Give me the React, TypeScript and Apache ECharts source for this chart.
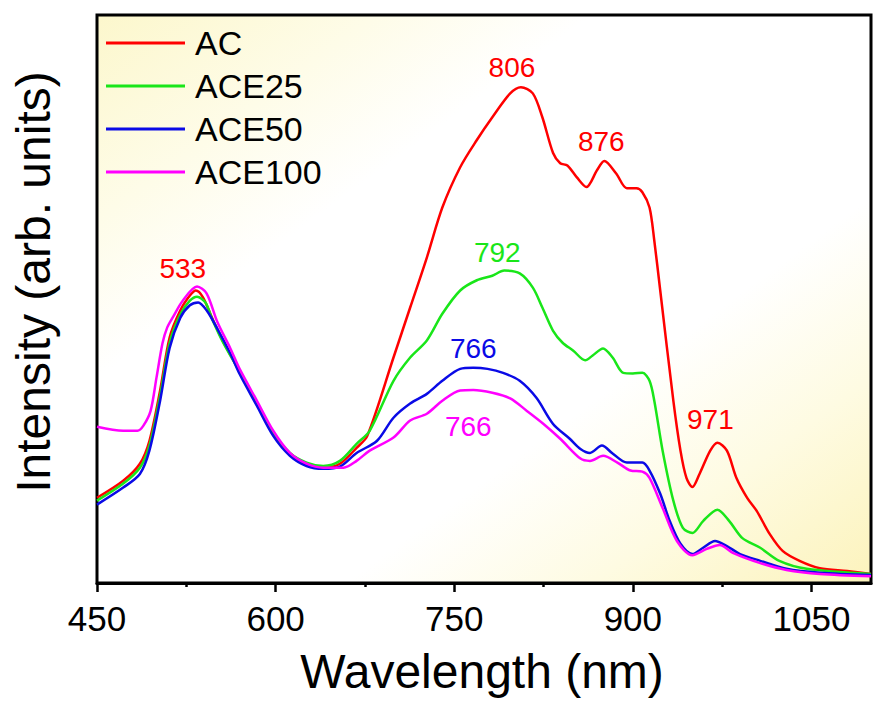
import React, { useEffect, useRef } from "react";
import * as echarts from "echarts";

// Emission spectra, wavelength (nm) vs. intensity (arb. units, 0–100 scale)
const AC_NM = [450, 472, 486, 494, 503, 511, 520, 528, 533, 539, 547, 556, 570, 584, 598, 612, 626, 640, 654, 668, 677, 699, 713, 727, 740, 755, 769, 782, 797, 806, 816, 824, 833, 839, 845, 853, 861, 870, 876, 886, 895, 903, 908, 914, 918, 923, 934, 940, 945, 950, 956, 965, 971, 979, 987, 996, 1004, 1015, 1026, 1040, 1057, 1080, 1100];
const AC_I = [15.0, 18.0, 21.0, 25.0, 33.9, 43.2, 48.0, 50.6, 51.5, 50.3, 46.5, 42.5, 37.2, 31.8, 26.4, 22.8, 21.0, 20.3, 21.0, 23.8, 25.9, 39.7, 48.5, 57.3, 66.1, 73.2, 78.0, 82.0, 86.2, 87.3, 86.2, 82.0, 75.7, 73.9, 73.5, 71.4, 69.7, 72.7, 74.3, 72.1, 69.5, 69.5, 68.8, 66.1, 60.3, 51.5, 32.1, 23.3, 18.5, 16.9, 19.2, 23.3, 24.7, 23.3, 18.5, 15.0, 12.7, 8.6, 5.6, 3.9, 2.6, 2.1, 1.6];

const ACE25_NM = [450, 472, 486, 494, 503, 511, 520, 528, 534, 541, 547, 556, 570, 584, 598, 612, 626, 640, 654, 668, 679, 699, 713, 727, 740, 755, 769, 782, 792, 805, 816, 824, 833, 841, 850, 860, 866, 875, 883, 892, 900, 908, 914, 918, 925, 934, 942, 950, 959, 971, 981, 992, 1007, 1023, 1046, 1100];
const ACE25_I = [14.5, 17.5, 20.3, 24.2, 33.0, 42.3, 47.3, 49.7, 50.4, 49.4, 46.3, 42.3, 37.1, 31.7, 26.5, 22.9, 21.2, 20.6, 21.5, 24.5, 26.8, 35.6, 39.7, 42.7, 47.4, 51.5, 53.3, 54.1, 55.0, 54.5, 52.0, 48.5, 44.4, 42.3, 40.9, 39.2, 40.0, 41.3, 39.7, 37.0, 36.9, 37.0, 35.6, 32.1, 23.3, 14.5, 9.7, 8.8, 10.9, 12.9, 10.9, 7.9, 6.2, 3.9, 2.5, 1.6];

const ACE50_NM = [450, 472, 486, 494, 503, 511, 520, 528, 535, 542, 551, 562, 570, 584, 598, 612, 626, 640, 654, 668, 685, 699, 713, 727, 740, 755, 766, 778, 791, 805, 819, 833, 847, 856, 864, 874, 883, 895, 908, 914, 923, 931, 940, 950, 959, 969, 979, 990, 1007, 1029, 1057, 1100];
const ACE50_I = [13.8, 16.8, 19.2, 23.3, 32.1, 41.4, 46.7, 48.9, 49.4, 48.0, 44.8, 40.4, 36.7, 31.3, 25.9, 22.4, 20.6, 20.1, 20.5, 22.9, 25.0, 29.1, 31.6, 33.3, 35.6, 37.7, 37.9, 37.7, 37.0, 35.6, 32.6, 28.0, 25.4, 23.6, 22.9, 24.2, 22.8, 21.2, 21.2, 19.8, 15.7, 10.9, 6.9, 5.1, 6.2, 7.4, 6.5, 5.1, 3.9, 2.5, 1.8, 1.4];

const ACE100_NM = [450, 472, 484, 489, 495, 500, 505, 509, 514, 522, 534, 542, 551, 562, 570, 584, 598, 612, 626, 640, 657, 668, 679, 699, 713, 727, 740, 755, 766, 782, 797, 811, 825, 839, 856, 864, 875, 887, 898, 908, 914, 925, 937, 950, 962, 973, 984, 1007, 1029, 1057, 1100];
const ACE100_I = [27.5, 26.8, 26.8, 27.7, 30.3, 36.2, 42.2, 45.0, 46.9, 49.7, 52.2, 51.0, 46.0, 41.3, 37.6, 32.2, 26.8, 22.9, 21.0, 20.3, 20.3, 21.5, 23.3, 25.6, 28.6, 29.8, 32.1, 33.9, 34.0, 33.5, 32.5, 30.3, 28.0, 25.4, 21.9, 21.5, 22.4, 21.2, 19.8, 19.6, 18.5, 13.2, 7.4, 4.9, 6.0, 6.7, 5.3, 3.5, 2.3, 1.6, 1.2];

// Annotated peak positions (nm)
const AC_PEAKS = [533, 806, 876, 971];
const ACE25_PEAKS = [792];
const ACE50_PEAKS = [766];
const ACE100_PEAKS = [766];

const X_MAJOR = [450, 600, 750, 900, 1050];
const X_MINOR = [525, 675, 825, 975];

const FONT = '"Liberation Sans", Arial, Helvetica, sans-serif';

// Label placement relative to each peak, in pixels
const PEAK_OFFSETS: Record<string, [number, number][]> = {
  AC: [[-13, -22], [-9, -20], [-3, -19], [-7, -23]],
  ACE25: [[-7, -18]],
  ACE50: [[0, -19]],
  ACE100: [[-5, 37]],
};

function pairs(nm: number[], vals: number[]) {
  return nm.map((w, i) => [w, vals[i]]);
}

function valueAt(nm: number[], vals: number[], w: number) {
  let best = 0;
  for (let i = 1; i < nm.length; i++) {
    if (Math.abs(nm[i] - w) < Math.abs(nm[best] - w)) best = i;
  }
  return vals[best];
}

export default function App() {
  const ref = useRef<HTMLDivElement>(null);

  useEffect(() => {
    if (!ref.current) return;
    const chart = echarts.init(ref.current, undefined, { renderer: "svg" });

    const defs = [
      { name: "AC", nm: AC_NM, vals: AC_I, peaks: AC_PEAKS, color: "#ff0000" },
      { name: "ACE25", nm: ACE25_NM, vals: ACE25_I, peaks: ACE25_PEAKS, color: "#19e619" },
      { name: "ACE50", nm: ACE50_NM, vals: ACE50_I, peaks: ACE50_PEAKS, color: "#0a0ae6" },
      { name: "ACE100", nm: ACE100_NM, vals: ACE100_I, peaks: ACE100_PEAKS, color: "#ff00ff" },
    ];

    const series = defs.map((d) => ({
      name: d.name,
      type: "line",
      xAxisIndex: 0,
      yAxisIndex: 0,
      data: pairs(d.nm, d.vals),
      smooth: 0.3,
      showSymbol: false,
      symbol: "none",
      lineStyle: { color: d.color, width: 2.5 },
      itemStyle: { color: d.color },
      markPoint: {
        symbol: "circle",
        symbolSize: 1,
        itemStyle: { color: "transparent" },
        data: d.peaks.map((p, i) => ({
          name: String(p),
          coord: [p, valueAt(d.nm, d.vals, p)],
          label: { offset: PEAK_OFFSETS[d.name][i] },
        })),
        label: {
          show: true,
          position: "inside",
          formatter: "{b}",
          color: d.color,
          fontSize: 28,
          fontFamily: FONT,
        },
      },
    }));

    const background = new echarts.graphic.LinearGradient(0, 0, 1, 1, [
      { offset: 0, color: "#fcf7cc" },
      { offset: 0.18, color: "#fefce8" },
      { offset: 0.32, color: "#ffffff" },
      { offset: 0.66, color: "#ffffff" },
      { offset: 0.82, color: "#fefbe2" },
      { offset: 1, color: "#fcf3bc" },
    ]);

    chart.setOption({
      animation: false,
      backgroundColor: "#ffffff",
      grid: {
        left: 97,
        right: 4,
        top: 15,
        bottom: 126,
        show: true,
        borderWidth: 3,
        borderColor: "#000",
        backgroundColor: background,
      },
      legend: {
        orient: "vertical",
        left: 106,
        top: 26,
        padding: 0,
        icon: "rect",
        itemWidth: 79,
        itemHeight: 3,
        itemGap: 9,
        selectedMode: false,
        textStyle: {
          fontSize: 34,
          lineHeight: 34,
          fontFamily: FONT,
          color: "#000",
          padding: [0, 0, 0, 5],
        },
        data: defs.map((d) => d.name),
      },
      xAxis: [
        {
          type: "value",
          min: 450,
          max: 1100,
          interval: 150,
          position: "bottom",
          axisLine: { show: true, lineStyle: { color: "#000", width: 3 } },
          axisTick: {
            show: true,
            inside: false,
            length: 9,
            customValues: X_MAJOR,
            lineStyle: { color: "#000", width: 2.5 },
          },
          axisLabel: {
            show: true,
            customValues: X_MAJOR,
            formatter: (v: number) => String(v),
            margin: 18,
            fontSize: 35,
            fontFamily: FONT,
            color: "#000",
          },
          splitLine: { show: false },
        },
        {
          type: "value",
          min: 450,
          max: 1100,
          interval: 150,
          position: "bottom",
          axisLine: { show: false },
          axisTick: {
            show: true,
            inside: false,
            length: 4,
            customValues: X_MINOR,
            lineStyle: { color: "#000", width: 2.5 },
          },
          axisLabel: { show: false },
          splitLine: { show: false },
        },
      ],
      yAxis: {
        type: "value",
        min: 0,
        max: 100,
        show: false,
        splitLine: { show: false },
      },
      graphic: [
        {
          type: "text",
          x: 33,
          y: 282,
          rotation: Math.PI / 2,
          style: {
            text: "Intensity (arb. units)",
            font: `48px ${FONT}`,
            fill: "#000",
            textAlign: "center",
            textVerticalAlign: "middle",
          },
        },
        {
          type: "text",
          x: 482,
          y: 671,
          style: {
            text: "Wavelength (nm)",
            font: `48px ${FONT}`,
            fill: "#000",
            textAlign: "center",
            textVerticalAlign: "middle",
          },
        },
      ],
      series,
    });

    return () => chart.dispose();
  }, []);

  return (
    <div
      ref={ref}
      style={{ position: "fixed", left: 0, top: 0, width: 875, height: 709 }}
    />
  );
}
